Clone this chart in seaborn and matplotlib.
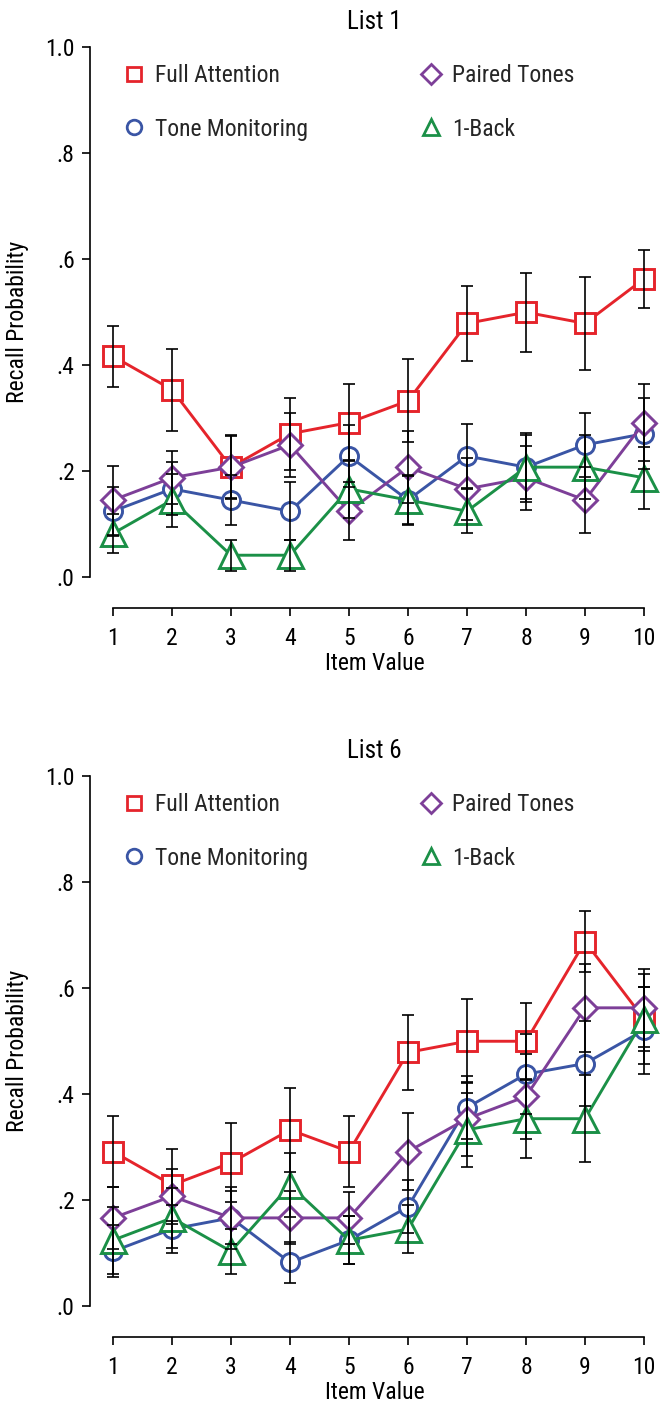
import matplotlib
matplotlib.use("Agg")
import matplotlib.pyplot as plt
from matplotlib.lines import Line2D
import seaborn as sns
import pandas as pd

# ---------------- data ----------------
items = [1, 2, 3, 4, 5, 6, 7, 8, 9, 10]
conditions = ["Full Attention", "Tone Monitoring", "Paired Tones", "1-Back"]

# List 1
l1_full = [0.417, 0.354, 0.208, 0.271, 0.292, 0.333, 0.479, 0.500, 0.479, 0.563]
l1_tone = [0.125, 0.167, 0.146, 0.125, 0.229, 0.146, 0.229, 0.208, 0.250, 0.271]
l1_pair = [0.146, 0.188, 0.208, 0.250, 0.125, 0.208, 0.167, 0.188, 0.146, 0.292]
l1_back = [0.083, 0.146, 0.042, 0.042, 0.167, 0.146, 0.125, 0.208, 0.208, 0.188]
l1_full_se = [0.058, 0.077, 0.060, 0.068, 0.073, 0.078, 0.070, 0.074, 0.087, 0.055]
l1_tone_se = [0.046, 0.050, 0.047, 0.055, 0.058, 0.047, 0.060, 0.065, 0.060, 0.067]
l1_pair_se = [0.065, 0.050, 0.058, 0.060, 0.055, 0.068, 0.058, 0.060, 0.062, 0.072]
l1_back_se = [0.037, 0.050, 0.029, 0.029, 0.055, 0.046, 0.042, 0.060, 0.060, 0.058]

# List 6
l6_full = [0.292, 0.229, 0.271, 0.333, 0.292, 0.479, 0.500, 0.500, 0.688, 0.542]
l6_tone = [0.104, 0.146, 0.167, 0.083, 0.125, 0.188, 0.375, 0.438, 0.458, 0.521]
l6_pair = [0.167, 0.208, 0.167, 0.167, 0.167, 0.292, 0.354, 0.396, 0.563, 0.563]
l6_back = [0.125, 0.167, 0.104, 0.229, 0.125, 0.146, 0.333, 0.354, 0.354, 0.542]
l6_full_se = [0.067, 0.067, 0.074, 0.079, 0.067, 0.070, 0.079, 0.073, 0.058, 0.085]
l6_tone_se = [0.049, 0.046, 0.050, 0.038, 0.045, 0.050, 0.060, 0.075, 0.080, 0.082]
l6_pair_se = [0.058, 0.052, 0.058, 0.050, 0.049, 0.073, 0.070, 0.080, 0.083, 0.074]
l6_back_se = [0.063, 0.057, 0.042, 0.060, 0.045, 0.046, 0.070, 0.075, 0.082, 0.060]

y_ticks = [0.0, 0.2, 0.4, 0.6, 0.8, 1.0]
y_ticklabels = [".0", ".2", ".4", ".6", ".8", "1.0"]

# ---------------- style ----------------
sns.set_theme(style="ticks")
FONT = ["Liberation Sans Narrow", "Roboto Condensed", "DejaVu Sans Condensed",
        "Roboto", "DejaVu Sans"]
plt.rcParams["font.family"] = FONT

colors = {"Full Attention": "#E5242B", "Tone Monitoring": "#3A55A5",
          "Paired Tones": "#7D3F98", "1-Back": "#1B9047"}
markers = {"Full Attention": "s", "Tone Monitoring": "o",
           "Paired Tones": "D", "1-Back": "^"}
msizes = {"Full Attention": 14.5, "Tone Monitoring": 13,
          "Paired Tones": 12, "1-Back": 18}
leg_sizes = {"Full Attention": 9.5, "Tone Monitoring": 10.5,
             "Paired Tones": 10, "1-Back": 12}

panels = [
    ("List 1", [l1_full, l1_tone, l1_pair, l1_back],
     [l1_full_se, l1_tone_se, l1_pair_se, l1_back_se]),
    ("List 6", [l6_full, l6_tone, l6_pair, l6_back],
     [l6_full_se, l6_tone_se, l6_pair_se, l6_back_se]),
]

W, H = 661, 1407
fig = plt.figure(figsize=(W / 100, H / 100), dpi=100)

left_px, right_px = 90, 658.75
x_lo = 1 - (113 - 90) / 59.0
x_hi = 10 + (right_px - 644) / 59.0
y_lo, y_hi = -0.0575, 1.02
ax_h_px = 571.6
bottoms_px = [608, 1337]

FS = 17

for (title, vals, ses), bpx in zip(panels, bottoms_px):
    ax = fig.add_axes([left_px / W, 1 - bpx / H, (right_px - left_px) / W, ax_h_px / H])
    for cond, v, se in zip(conditions, vals, ses):
        df = pd.DataFrame({"item": items, "p": v})
        sns.lineplot(data=df, x="item", y="p", ax=ax, color=colors[cond],
                     marker=markers[cond], markersize=msizes[cond],
                     markerfacecolor="white", markeredgecolor=colors[cond],
                     markeredgewidth=2.1, linewidth=2.1, zorder=3, legend=False)
    for cond, v, se in zip(conditions, vals, ses):
        ax.errorbar(items, v, yerr=se, fmt="none", ecolor="black",
                    elinewidth=1.2, capsize=4, capthick=1.2, zorder=5)

    ax.set_xlim(x_lo, x_hi)
    ax.set_ylim(y_lo, y_hi)
    ax.set_xticks(items)
    ax.set_xticklabels([str(i) for i in items], fontsize=FS)
    ax.set_yticks(y_ticks)
    ax.set_yticklabels(y_ticklabels, fontsize=FS)
    for s in ["top", "right"]:
        ax.spines[s].set_visible(False)
    ax.spines["left"].set_bounds(0, 1)
    ax.spines["bottom"].set_bounds(1, 10)
    for s in ["left", "bottom"]:
        ax.spines[s].set_linewidth(1.2)
        ax.spines[s].set_color("black")
    ax.tick_params(axis="both", direction="out", length=6, width=1.2,
                   color="black", labelcolor="black")
    ax.tick_params(axis="x", pad=8)
    ax.tick_params(axis="y", pad=5)
    ax.set_xlabel("Item Value", fontsize=FS, labelpad=1, color="black")
    ax.set_ylabel("Recall Probability", fontsize=FS, labelpad=12, color="black")
    ax.set_title(title, fontsize=FS + 1, pad=5, color="black")
    ax.grid(False)

    handles = [Line2D([0], [0], linestyle="none", marker=markers[c],
                      markersize=leg_sizes[c], markerfacecolor="white",
                      markeredgecolor=colors[c], markeredgewidth=2.0)
               for c in conditions]
    ax.legend(handles, conditions, loc="upper left", bbox_to_anchor=(0.06, 0.952),
              ncol=2, frameon=False, fontsize=FS, handlelength=0.8,
              handletextpad=0.5, columnspacing=4.8, labelspacing=1.3,
              borderpad=0, borderaxespad=0)

fig.savefig("out.png", dpi=100)
